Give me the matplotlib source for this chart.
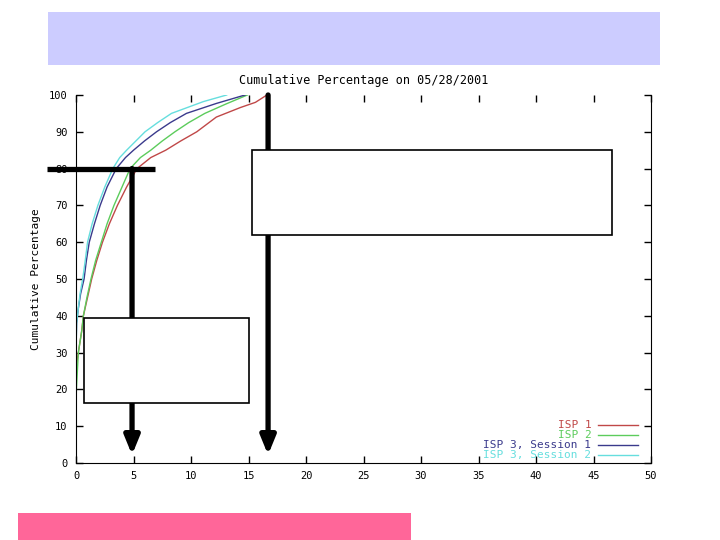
import matplotlib
matplotlib.use("Agg")
import matplotlib.pyplot as plt
from matplotlib.patches import Rectangle

# cumulative curves (x, percent)
isp1_x = [0, 0.05, 0.1, 0.2, 0.35, 0.5, 0.64, 1.0, 1.36, 1.8, 2.3, 2.9, 3.6, 4.4, 5.3, 6.5, 7.8, 9.1, 10.5, 12.2, 14.3, 15.6, 16.6]
isp1_y = [22, 26, 28, 30, 33, 36, 40, 45, 50, 55, 60, 65, 70, 75, 80, 83, 85, 87.5, 90, 94, 96.6, 98, 100]
isp2_x = [0, 0.03, 0.1, 0.2, 0.35, 0.5, 0.64, 0.95, 1.3, 1.7, 2.2, 2.7, 3.3, 4.0, 4.7, 5.6, 6.5, 7.5, 8.6, 9.8, 11.2, 13.0, 14.9]
isp2_y = [15, 20, 24, 30, 33, 36, 40, 45, 50, 55, 60, 65, 70, 75, 80, 83, 85, 87.5, 90, 92.5, 95, 97.5, 100]
s1_x = [0, 0.05, 0.2, 0.4, 0.7, 0.9, 1.15, 1.6, 2.1, 2.7, 3.5, 4.3, 5.0, 5.95, 7.0, 8.2, 9.6, 12.2, 14.7]
s1_y = [31, 38, 42, 46, 50, 55, 60, 65, 70, 75, 80, 83, 85, 87.5, 90, 92.5, 95, 97.7, 100]
s2_x = [0, 0, 0.05, 0.2, 0.35, 0.58, 0.8, 1.0, 1.4, 1.9, 2.5, 3.2, 3.8, 4.4, 5.2, 6.0, 7.1, 8.3, 11.07, 13.1]
s2_y = [0, 30, 38, 42, 46, 50, 55, 60, 65, 70, 75, 80, 83, 85, 87.5, 90, 92.5, 95, 98.2, 100]

labels = ["ISP 1", "ISP 2", "ISP 3, Session 1", "ISP 3, Session 2"]
colors = ["#c04848", "#5ccc5c", "#3a3a8c", "#66dede"]

xticks = list(range(0, 51, 5))
yticks = list(range(0, 101, 10))

# annotation marks
hbar_x = [-2.5, 6.9]
hbar_y = 80
arrows_x = [4.87, 16.7]
arrows_top = [80, 100]
arrow_tip = 2.2
box1 = (0.7, 16.3, 14.3, 23.1)   # x, y, w, h
box2 = (15.3, 62.0, 31.3, 23.0)

fig = plt.figure(figsize=(7.2, 5.4), dpi=100)
fig.patches.append(Rectangle((0.0667, 0.8796), 0.85, 0.098, transform=fig.transFigure,
                             facecolor="#ccccff", edgecolor="none"))
fig.patches.append(Rectangle((0.025, 0.0), 0.546, 0.05, transform=fig.transFigure,
                             facecolor="#ff6699", edgecolor="none"))

ax = fig.add_axes([0.1056, 0.1426, 0.7986, 0.6815])
font = "DejaVu Sans Mono"

for xs, ys, lab, c in zip([isp1_x, isp2_x, s1_x, s2_x], [isp1_y, isp2_y, s1_y, s2_y], labels, colors):
    ax.plot(xs, ys, color=c, lw=1.0, label=lab)

ax.set_xlim(0, 50)
ax.set_ylim(0, 100)
ax.set_xticks(xticks)
ax.set_yticks(yticks)
ax.tick_params(direction="in", length=5, width=1, top=True, right=True,
               labelsize=7.5, pad=6)
for t in ax.get_xticklabels() + ax.get_yticklabels():
    t.set_family(font)
ax.spines["top"].set_visible(False)

ax.set_title("Cumulative Percentage on 05/28/2001", family=font, fontsize=8.5, pad=8)
ax.set_ylabel("Cumulative Percentage", family=font, fontsize=8, labelpad=6)

leg = ax.legend(loc="lower right", bbox_to_anchor=(0.985, -0.005), frameon=False,
                markerfirst=False, prop={"family": font, "size": 8}, handlelength=3.6,
                handletextpad=0.6, labelspacing=0.0, borderaxespad=0.0,
                labelcolor="linecolor")

# thick black annotation lines with arrows
ax.plot(hbar_x, [hbar_y, hbar_y], color="black", lw=3.8, clip_on=False, zorder=5,
        solid_capstyle="butt")
for xa, top in zip(arrows_x, arrows_top):
    ax.annotate("", xy=(xa, arrow_tip), xytext=(xa, top),
                arrowprops=dict(arrowstyle="-|>,head_length=1.1,head_width=0.45",
                                color="black", lw=3.8, shrinkA=0, shrinkB=0),
                zorder=5, annotation_clip=False)

for bx, by, bw, bh in [box1, box2]:
    ax.add_patch(Rectangle((bx, by), bw, bh, facecolor="white", edgecolor="black",
                           lw=1.2, zorder=6))

fig.savefig("out.png", dpi=100)
